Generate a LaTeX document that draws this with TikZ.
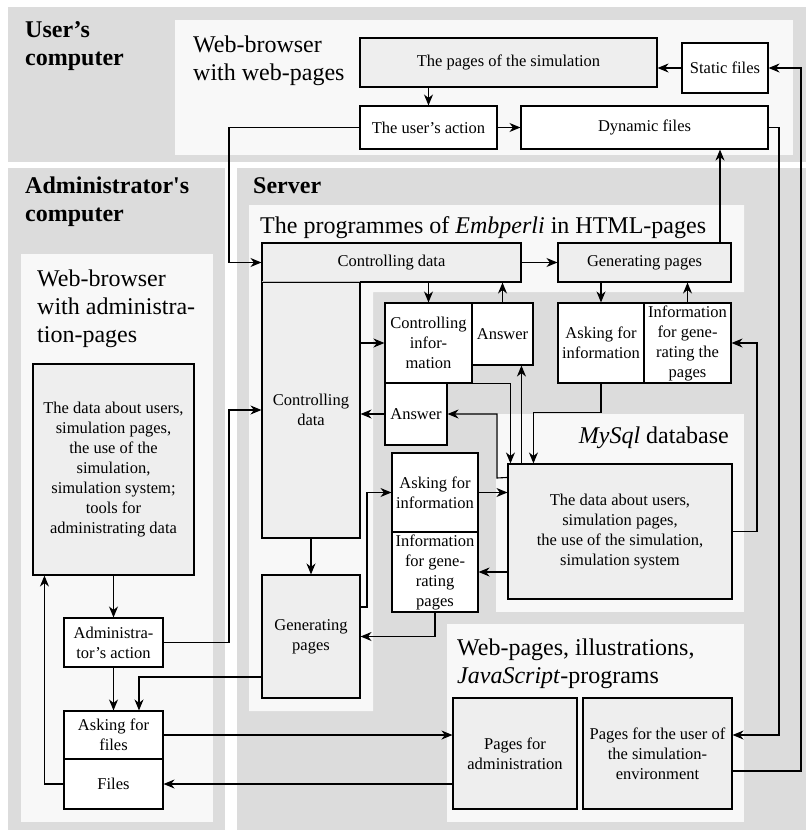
\documentclass[tikz,border=0pt]{standalone}
\usepackage{fontspec}
\setmainfont{Liberation Serif}
\usetikzlibrary{arrows.meta}
\definecolor{panel}{HTML}{DCDCDC}
\definecolor{pane}{HTML}{F8F8F8}
\definecolor{shade}{HTML}{EEEEEE}
\definecolor{seam}{HTML}{BDBDBD}

\begin{document}
\begin{tikzpicture}[x=1pt,y=-1pt,>={Stealth[length=11pt,width=9pt,inset=3.5pt]},
  box/.style={draw,line width=1.1pt,fill=white,inner sep=1pt,align=center,
    font=\fontsize{16.5}{20}\selectfont},
  gbox/.style={box,fill=shade},
  head/.style={font=\fontsize{24}{28}\selectfont,align=left,anchor=base west,
    inner sep=0pt},
  bhead/.style={head,font=\fontsize{24}{28}\selectfont\bfseries},
  link/.style={->,line width=1.1pt}]
  \useasboundingbox (0,0) rectangle (806,830);

  \fill[panel] (8,7) rectangle (806,162);
  \fill[pane] (175,20) rectangle (793,155);
  \fill[panel] (8,168) rectangle (225,830);
  \fill[pane] (21,254) rectangle (213,822);
  \fill[panel] (237,168) rectangle (806,830);
  \fill[pane] (249,205) -- (744,205) -- (744,292) -- (373,292)
    -- (373,711) -- (249,711) -- cycle;
  \fill[pane] (496,414) rectangle (744,612);
  \fill[pane] (447,624) rectangle (744,822);

  \node[bhead] (ucomp) at (25,65) {User's\\computer};
  \node[head] (ubrw) at (193,80) {Web-browser\\with web-pages};
  \node[bhead] (acomp) at (25,221) {Administrator\textquotesingle s\\computer};
  \node[bhead] (srv) at (253,193) {Server};
  \node[head] (prog) at (260,233)
    {The programmes of \textit{Embperli} in HTML-pages};
  \node[head] (abrw) at (37,342) {Web-browser\\with administra-\\tion-pages};
  \node[head,anchor=base east] (mysql) at (729,443) {\textit{MySql} database};
  \node[head] (wpg) at (457,683)
    {Web-pages, illustrations,\\\textit{JavaScript}-programs};

  % user's computer
  \node[gbox,minimum width=297pt,minimum height=49pt] (pgsim) at (508.5,62.5)
    {The pages of the simulation};
  \node[box,minimum width=86pt,minimum height=50pt] (stat) at (725,68)
    {Static files};
  \node[box,minimum width=137pt,minimum height=43pt] (uact) at (428.5,127.5)
    {The user's action};
  \node[box,minimum width=247pt,minimum height=43pt] (dyn) at (644.5,127.5)
    {Dynamic files};

  % server
  \node[gbox,minimum width=259pt,minimum height=39pt] (cdbar) at (391.5,262.5)
    {Controlling data};
  \node[gbox,minimum width=98pt,minimum height=256pt] (cdcol) at (311,410)
    {Controlling\\data};
  \draw[seam,line width=1.3pt] ([xshift=1pt]cdcol.north west)
    -- ([xshift=-1pt]cdcol.north east);
  \node[gbox,minimum width=173pt,minimum height=39pt] (gentop) at (644.5,262.5)
    {Generating pages};
  \node[gbox,minimum width=98pt,minimum height=123pt] (genbot) at (311,636.5)
    {Generating\\pages};
  \node[box,minimum width=87pt,minimum height=80pt] (cinf) at (428.5,343)
    {Controlling\\infor-\\mation};
  \node[box,minimum width=61pt,minimum height=62pt] (ansA) at (502.5,334)
    {Answer};
  \node[box,minimum width=62pt,minimum height=62pt] (ansB) at (416,414)
    {Answer};
  \node[box,minimum width=86pt,minimum height=79pt] (askL) at (435,492.5)
    {Asking for\\information};
  \node[box,minimum width=86pt,minimum height=80pt] (infL) at (435,572)
    {Information\\for gene-\\rating\\pages};
  \node[box,minimum width=86pt,minimum height=80pt] (askR) at (601,343)
    {Asking for\\information};
  \node[box,minimum width=87pt,minimum height=80pt] (infR) at (687.5,343)
    {Information\\for gene-\\rating the\\pages};
  \node[gbox,minimum width=224pt,minimum height=135pt] (db) at (620,531.5)
    {The data about users,\\simulation pages,\\the use of the simulation,\\simulation system};
  \node[gbox,minimum width=124pt,minimum height=111pt] (padm) at (515,753.5)
    {Pages for\\administration};
  \node[gbox,minimum width=149pt,minimum height=111pt] (puser) at (657.5,753.5)
    {Pages for the user of\\the simulation-\\environment};

  % administrator's computer
  \node[gbox,minimum width=161pt,minimum height=211pt] (adata) at (113.5,469.5)
    {The data about users,\\simulation pages,\\the use of the\\simulation,\\simulation system;\\tools for\\administrating data};
  \node[box,minimum width=99pt,minimum height=49pt] (aact) at (113.5,642.5)
    {Administra-\\tor's action};
  \node[box,minimum width=99pt,minimum height=48pt] (askf) at (113.5,735)
    {Asking for\\files};
  \node[box,minimum width=99pt,minimum height=50pt] (files) at (113.5,784)
    {Files};

  \draw[link] (uact.north |- pgsim.south) -- (uact.north);
  \draw[link] (uact.east) -- (dyn.west);
  \draw[link] (stat.west) -- (stat.west -| pgsim.east);
  \draw[link] ([yshift=-17.5pt]puser.east) -- (801,771) |- (stat.east);
  \draw[link] (dyn.east) -- (779,127.5) |- ([yshift=18.5pt]puser.east);
  \draw[link] ([xshift=75.5pt]gentop.north) -- ([xshift=75.5pt]gentop.north |- dyn.south);
  \draw[link] (uact.west) -- (229,127.5) |- (cdbar.west);
  \draw[link] (cdbar.east) -- (gentop.west);
  \draw[link] (cinf.north |- cdbar.south) -- (cinf.north);
  \draw[link] (ansA.north) -- (ansA.north |- cdbar.south);
  \draw[link] (cdcol.east |- cinf.west) -- (cinf.west);
  \draw[link] (ansB.west) -- (ansB.west -| cdcol.east);
  \draw[link] (cinf.south east) -| ([xshift=3pt]db.north west);
  \draw[link] ([xshift=14pt]db.north west) -- ([xshift=14pt]db.north west |- ansA.south);
  \draw[link] ([yshift=-14pt]db.north west) -- (497,478) |- (ansB.east);
  \draw[link] (askL.east) -- (askL.east -| db.west);
  \draw[link] (db.west |- infL.east) -- (infL.east);
  \draw[link] ([yshift=29.5pt]genbot.east) -- (367,607) |- (askL.west);
  \draw[link] (infL.south) |- (genbot.east);
  \draw[link] (askR.north |- gentop.south) -- (askR.north);
  \draw[link] (infR.north) -- (infR.north |- gentop.south);
  \draw[link] (askR.south) -- ++(0,29) -| ([xshift=26pt]db.north west);
  \draw[link] (db.east) -- (757,531.5) |- (infR.east);
  \draw[link] (cdcol.south) -- (genbot.north);
  \draw[link] (adata.south) -- (aact.north);
  \draw[link] (aact.south) -- (askf.north);
  \draw[link] ([yshift=-40.5pt]genbot.west) -| ([xshift=25.5pt]askf.north);
  \draw[link] (aact.east) -- (229,642.5) |- (cdcol.west);
  \draw[link] (askf.east) -- (askf.east -| padm.west);
  \draw[link] (padm.west |- files.east) -- (files.east);
  \draw[link] (files.west) -| ([xshift=12pt]adata.south west);
\end{tikzpicture}
\end{document}
